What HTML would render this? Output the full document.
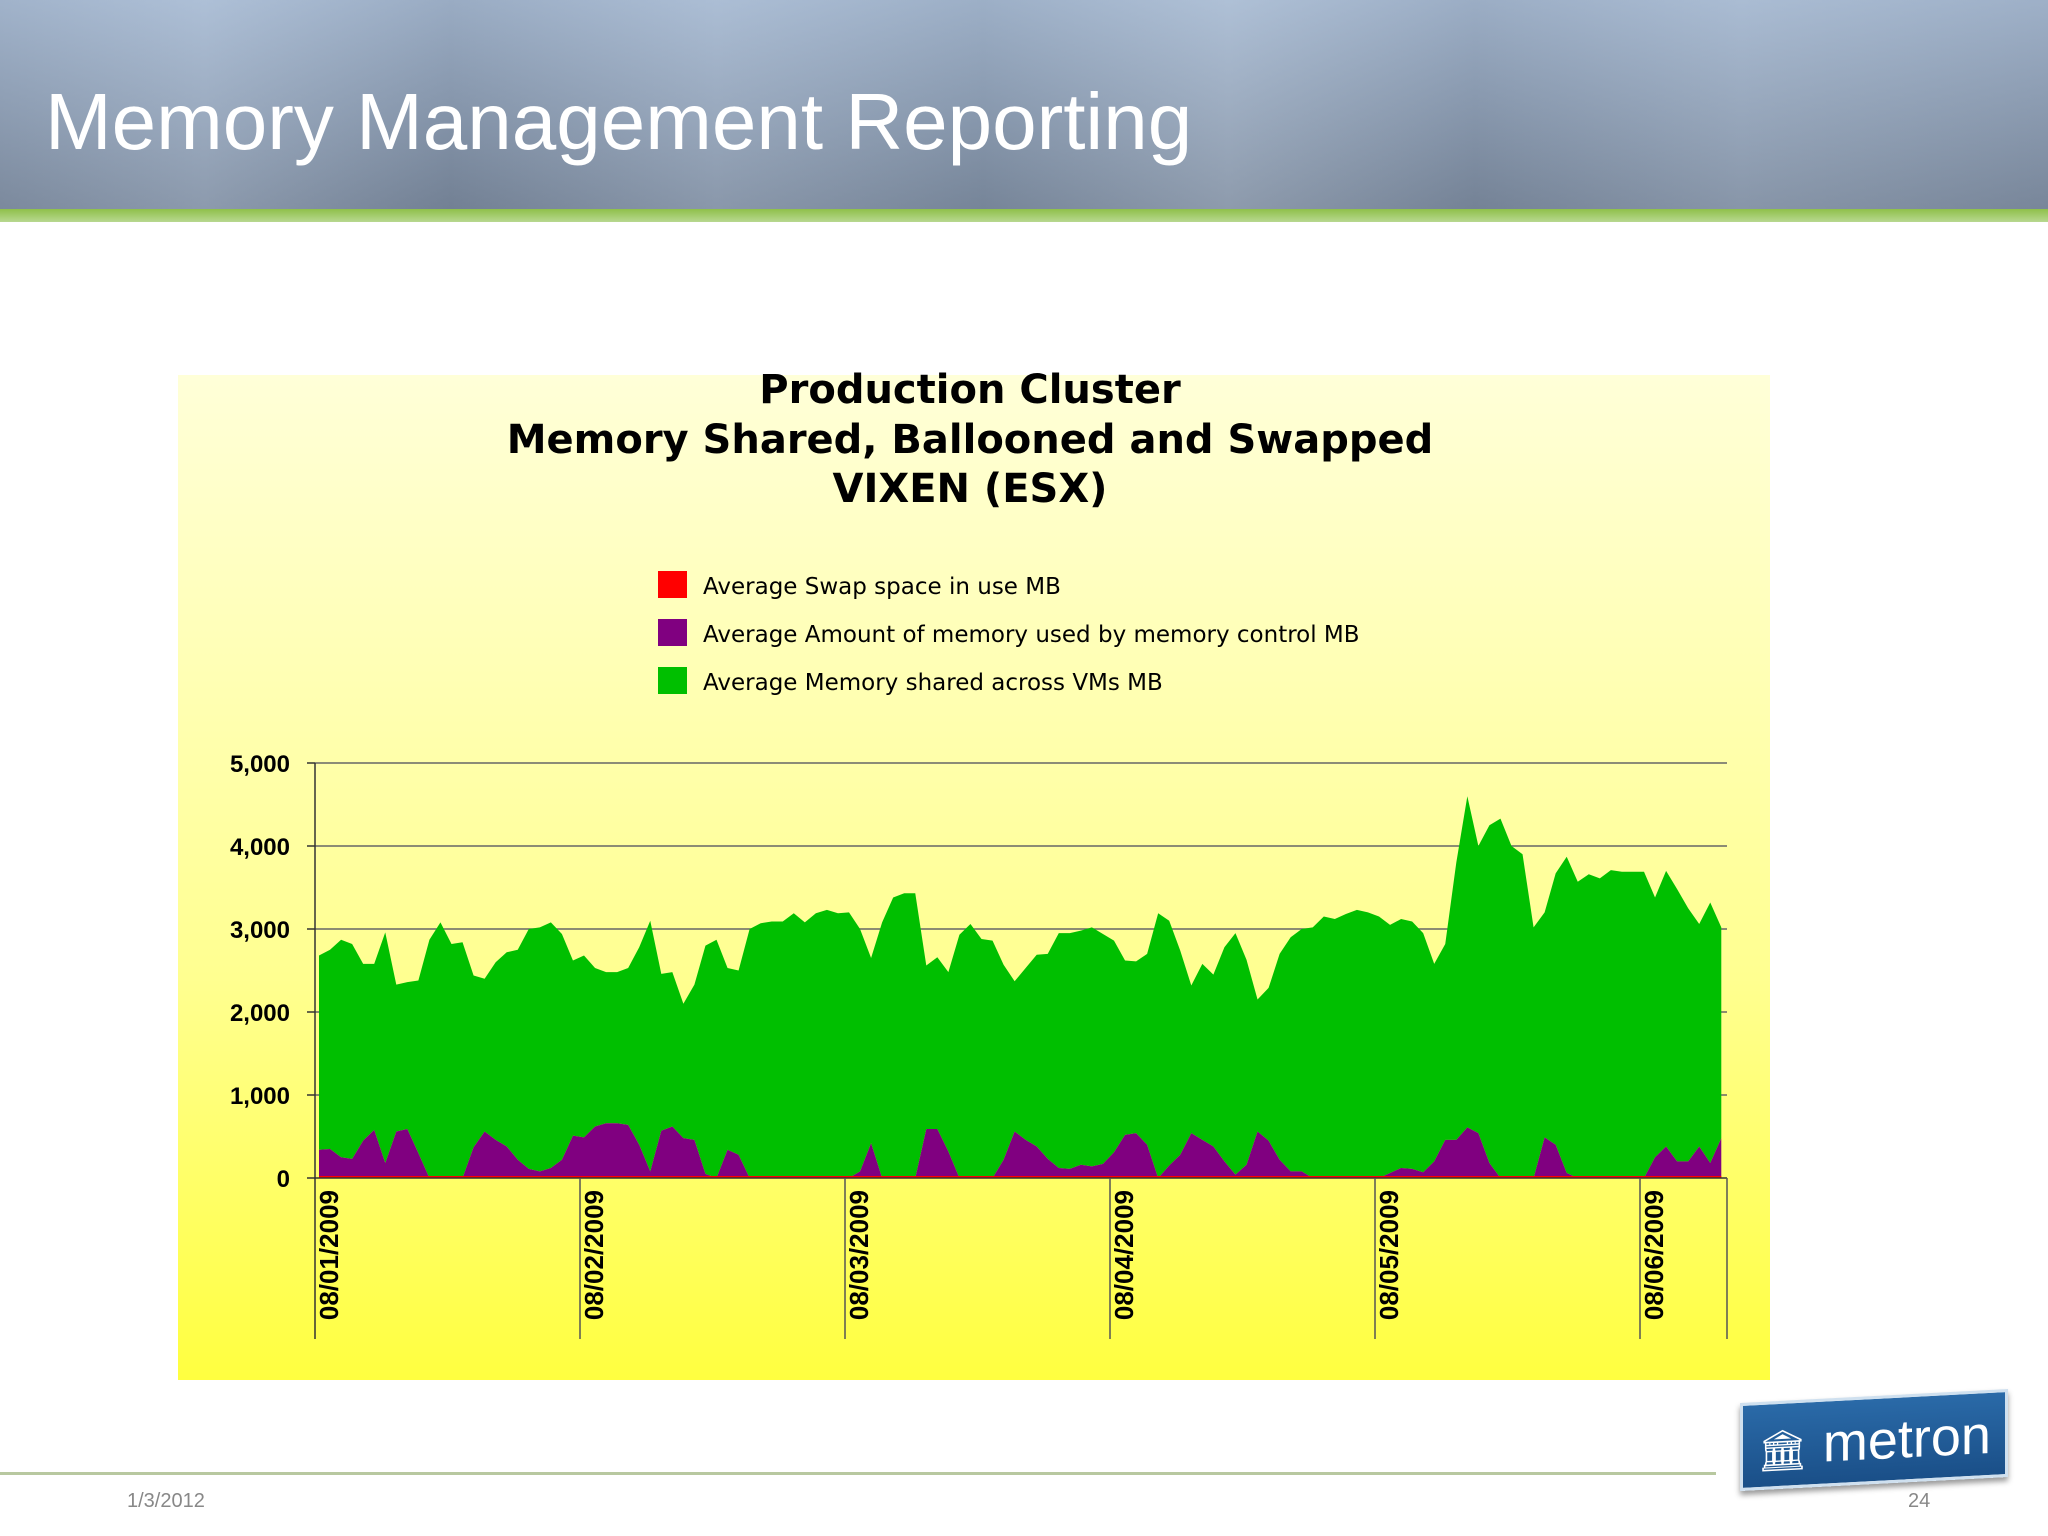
<!DOCTYPE html>
<html><head><meta charset="utf-8"><style>
body{margin:0;width:2048px;height:1536px;position:relative;overflow:hidden;background:#fff;font-family:"Liberation Sans",sans-serif}
#hdr{position:absolute;left:0;top:0;width:2048px;height:209px;background:linear-gradient(90deg,#8d9db3 0%,#a7b7cc 10%,#7f8fa5 22%,#a3b3c8 35%,#8596ac 48%,#a9b8cb 60%,#8292a8 72%,#a0b0c5 85%,#8898ae 100%)}
#hdr:after{content:"";position:absolute;left:0;top:0;right:0;bottom:0;background:linear-gradient(180deg,rgba(180,200,225,.5),rgba(90,100,115,.35))}
#gl{position:absolute;left:0;top:209px;width:2048px;height:13px;background:linear-gradient(180deg,#8fc04a,#b8d890)}
#title{position:absolute;left:45px;top:76px;font-size:80px;color:#fff;z-index:2;white-space:nowrap}
</style></head><body>
<div id="hdr"></div>
<div id="gl"></div>
<div id="title">Memory Management Reporting</div>
<svg id="chart" width="2048" height="1536" style="position:absolute;left:0;top:0">
<defs><linearGradient id="pg" x1="0" y1="0" x2="0" y2="1"><stop offset="0" stop-color="#ffffd8"/><stop offset="0.6" stop-color="#ffff90"/><stop offset="1" stop-color="#ffff40"/></linearGradient></defs>
<rect x="178" y="375" width="1592" height="1005" fill="url(#pg)"/>
<g font-family="DejaVu Sans, sans-serif" font-weight="bold" font-size="40" text-anchor="middle" fill="#000">
<text x="970" y="403">Production Cluster</text>
<text x="970" y="453">Memory Shared, Ballooned and Swapped</text>
<text x="970" y="502">VIXEN (ESX)</text>
</g>
<g font-family="DejaVu Sans, sans-serif" font-size="23" fill="#000">
<g><rect x="658" y="571" width="29" height="27" fill="#ff0000"/><text x="703" y="594">Average Swap space in use MB</text></g>
<g><rect x="658" y="619" width="29" height="27" fill="#800080"/><text x="703" y="642">Average Amount of memory used by memory control MB</text></g>
<g><rect x="658" y="667" width="29" height="27" fill="#00bf00"/><text x="703" y="690">Average Memory shared across VMs MB</text></g>
</g>
<g id="plot"></g>
</svg>
<div style="position:absolute;left:0;top:1472px;width:1716px;height:3px;background:#b8c8a0"></div>
<div style="position:absolute;left:127px;top:1490px;font-size:20px;color:#888">1/3/2012</div>
<div style="position:absolute;left:1908px;top:1490px;font-size:20px;color:#888">24</div>
<div style="position:absolute;left:1740px;top:1396px;width:268px;height:88px;background:linear-gradient(180deg,#2a6aa8,#1a4f88);transform:skewY(-3deg);border:3px solid #cfe0ef;box-shadow:0 4px 6px #999;color:#fff;font-size:54px;line-height:84px;white-space:nowrap;text-align:center;box-sizing:border-box;overflow:hidden"><span style="font-size:40px">🏛</span> metron</div>
<script>
const yTicks=[0,1000,2000,3000,4000,5000];
const yTickLabels=["0","1,000","2,000","3,000","4,000","5,000"];
const dayLabels=["08/01/2009","08/02/2009","08/03/2009","08/04/2009","08/05/2009","08/06/2009"];
const stackedTopMB=[2680,2750,2870,2820,2580,2580,2960,2330,2360,2380,2870,3080,2820,2840,2440,2400,2600,2720,2750,3000,3020,3080,2940,2620,
2680,2530,2480,2480,2530,2780,3100,2460,2480,2100,2330,2800,2870,2530,2500,3000,3070,3090,3090,3190,3080,3190,3230,3190,
3200,3000,2650,3080,3380,3430,3430,2560,2660,2480,2930,3060,2880,2860,2570,2370,2530,2690,2700,2950,2950,2980,3020,2940,
2860,2620,2610,2700,3190,3100,2740,2320,2580,2450,2780,2950,2630,2150,2290,2700,2900,3000,3020,3150,3120,3180,3230,3200,
3150,3050,3120,3090,2950,2580,2820,3800,4600,4000,4250,4330,4000,3900,3020,3200,3670,3870,3570,3660,3610,3710,3690,3690,
3690,3380,3700,3480,3250,3060,3320,3020];
const balloonMB=[340,350,250,230,450,580,180,560,590,300,0,0,0,0,370,560,460,380,220,110,80,120,220,510,
490,620,660,660,640,400,80,570,620,480,460,50,0,340,280,0,0,0,0,0,0,0,0,0,
0,80,420,0,0,0,0,590,590,320,0,0,0,0,220,560,460,380,230,120,110,160,140,170,
310,520,540,400,0,150,280,540,460,380,200,40,160,560,450,220,80,80,0,0,0,0,0,0,
0,60,120,110,70,200,460,460,610,540,180,0,0,0,0,490,400,60,0,0,0,0,0,0,
0,250,380,200,200,380,180,480];
const swapMB=stackedTopMB.map(()=>0);
const NS="http://www.w3.org/2000/svg";
const L=315,R=1727,B=1178,T=763,dayW=265,x0=319,perHour=dayW/24;
const X=i=>x0+i*perHour, Y=v=>B-(v/5000)*(B-T);
const g=document.getElementById('plot');
function mk(t,a){const e=document.createElementNS(NS,t);for(const k in a)e.setAttribute(k,a[k]);g.appendChild(e);return e;}
yTicks.forEach((v,i)=>{
 if(v>0){const l=mk('line',{x1:L,x2:R,y1:Y(v),y2:Y(v),stroke:'#666','stroke-width':1.5});
 
 }
 const tk=mk('line',{x1:L-8,x2:L,y1:Y(v),y2:Y(v),stroke:'#333','stroke-width':1.5});
 
 
 const t=mk('text',{x:290,y:Y(v)+9,'text-anchor':'end','font-size':24,'font-weight':'bold'});
 t.textContent=yTickLabels[i];
 
 
});
function area(top,bot,fill,name){
 let d='M'+X(0)+','+Y(top[0]);
 for(let i=1;i<top.length;i++)d+='L'+X(i)+','+Y(top[i]);
 for(let i=bot.length-1;i>=0;i--)d+='L'+X(i)+','+Y(bot[i]);
 const p=mk('path',{d:d+'Z',fill:fill});
 
 
}
area(stackedTopMB,balloonMB,'#00bf00','area-shared');
area(balloonMB,swapMB,'#800080','area-balloon');
const sw=mk('line',{x1:X(0),x2:X(stackedTopMB.length-1),y1:B-1,y2:B-1,stroke:'#ff0000','stroke-width':2});


const ax=mk('line',{x1:L,x2:L,y1:T,y2:1339,stroke:'#333','stroke-width':1.5});


const bx=mk('line',{x1:L,x2:R,y1:B,y2:B,stroke:'#333','stroke-width':1.5});


dayLabels.forEach((s,i)=>{
 const x=L+i*dayW;
 if(i>0){const l=mk('line',{x1:x,x2:x,y1:B,y2:1339,stroke:'#555','stroke-width':1.5});
 
 }
 const t=mk('text',{x:0,y:0,'font-size':26,'font-weight':'bold','text-anchor':'end',transform:`translate(${x+23},1190) rotate(-90)`});
 t.textContent=s;
 
 
});
const rl=mk('line',{x1:R,x2:R,y1:B,y2:1339,stroke:'#555','stroke-width':1.5});


</script>
</body></html>
